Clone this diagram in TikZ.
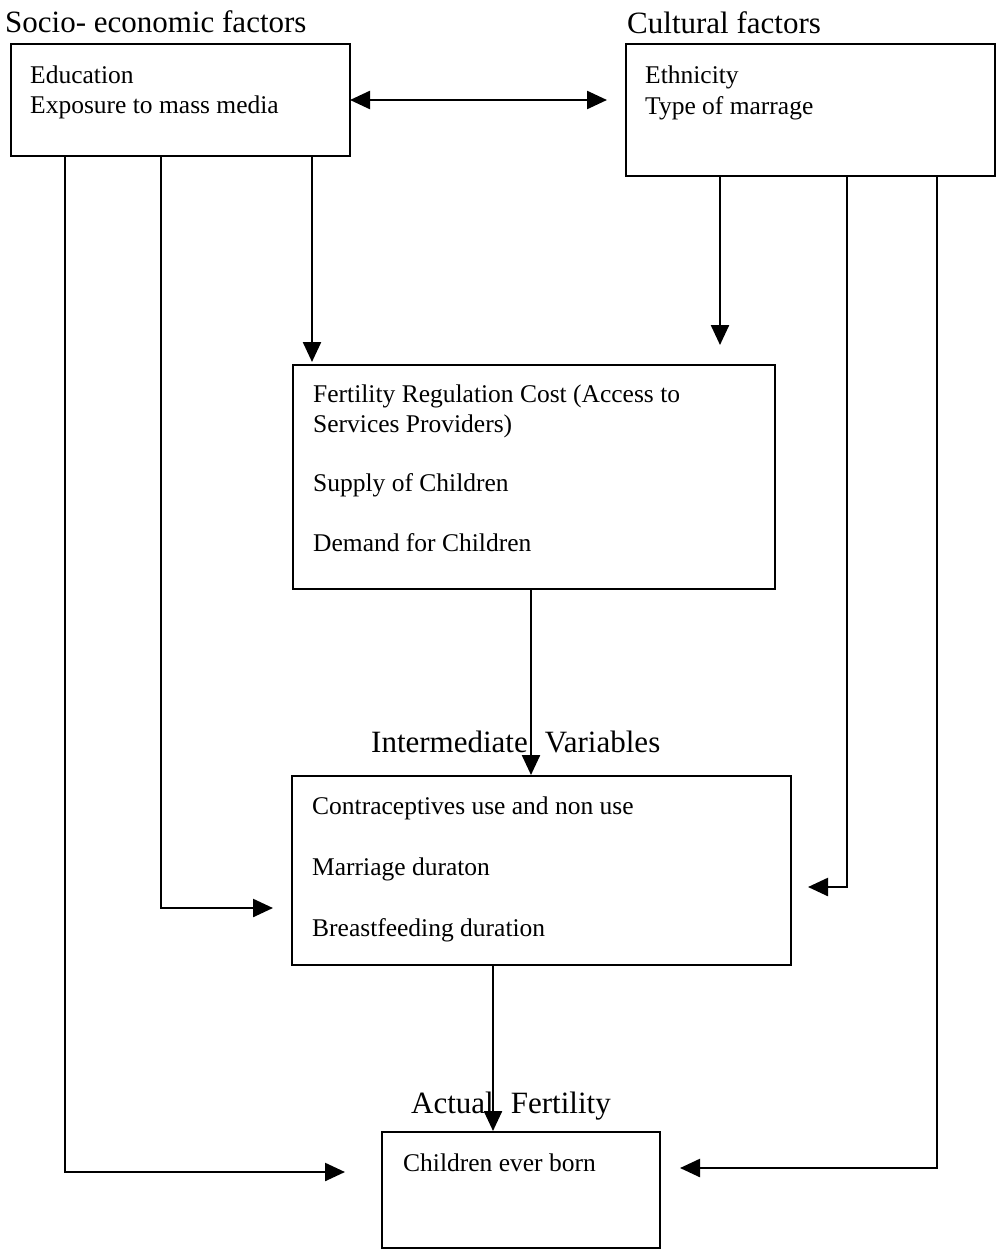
\documentclass[tikz,border=0pt]{standalone}
\usepackage{fontspec}
\setmainfont{Liberation Serif}
\usetikzlibrary{arrows.meta}
\tikzset{
  box/.style={draw, line width=2.2pt, rectangle, inner sep=0pt, anchor=north west},
  boxtext/.style={anchor=base west, inner sep=0pt, font=\fontsize{25.5}{30}\selectfont},
  heading/.style={anchor=base west, inner sep=0pt, font=\fontsize{31}{36}\selectfont},
  conn/.style={line width=2.4pt, -{Triangle[length=20pt,width=18pt]}},
  dconn/.style={line width=2.4pt, {Triangle[length=20pt,width=18pt]}-{Triangle[length=20pt,width=18pt]}},
}
\begin{document}
\begin{tikzpicture}[x=1pt,y=-1pt]
\useasboundingbox (0,0) rectangle (996,1253);
\fill[white] (0,0) rectangle (996,1253);

% headings
\node[heading] (hsoc) at (5,32) {Socio- economic factors};
\node[heading] (hcul) at (627,33) {Cultural factors};
\node[heading] (hint) at (371,752) {Intermediate\hspace{0.55em}Variables};
\node[heading] (hact) at (411,1113) {Actual\hspace{0.55em}Fertility};

% boxes
\node[box, minimum width=339pt, minimum height=112pt] (b1) at (10,43) {};
\node[box, minimum width=369pt, minimum height=132pt] (b2) at (625,43) {};
\node[box, minimum width=482pt, minimum height=224pt] (b3) at (292,364) {};
\node[box, minimum width=499pt, minimum height=189pt] (b4) at (291,775) {};
\node[box, minimum width=278pt, minimum height=116pt] (b5) at (381,1131) {};

% box texts
\node[boxtext] (t11) at (30,83) {Education};
\node[boxtext] (t12) at (30,113) {Exposure to mass media};
\node[boxtext] (t21) at (645,83) {Ethnicity};
\node[boxtext] (t22) at (645,114) {Type of marrage};
\node[boxtext] (t31) at (313,402) {Fertility Regulation Cost (Access to};
\node[boxtext] (t32) at (313,432) {Services Providers)};
\node[boxtext] (t33) at (313,491) {Supply of Children};
\node[boxtext] (t34) at (313,551) {Demand for Children};
\node[boxtext] (t41) at (312,814) {Contraceptives use and non use};
\node[boxtext] (t42) at (312,875) {Marriage duraton};
\node[boxtext] (t43) at (312,936) {Breastfeeding duration};
\node[boxtext] (t51) at (403,1171) {Children ever born};

% free ends
\coordinate (dl) at (350,100);
\coordinate (dr) at (607,100);
\coordinate (a3l) at (312,362);
\coordinate (a3r) at (720,345);
\coordinate (a4l) at (273,908);
\coordinate (a4r) at (808,887);
\coordinate (a5l) at (345,1172);
\coordinate (a5r) at (680,1168);

% connectors
\draw[dconn] (dl) -- (dr);
\draw[conn] (b1.south west -| a3l) -- (a3l);
\draw[conn] (b1.south west -| 161,0) |- (a4l);
\draw[conn] (b1.south west -| 65,0) |- (a5l);
\draw[conn] (b2.south west -| a3r) -- (a3r);
\draw[conn] (b2.south west -| 847,0) |- (a4r);
\draw[conn] (b2.south west -| 937,0) |- (a5r);
\draw[conn] (b3.south west -| 531,0) -- (b4.north west -| 531,0);
\draw[conn] (b4.south west -| 493,0) -- (b5.north west -| 493,0);
\end{tikzpicture}
\end{document}
